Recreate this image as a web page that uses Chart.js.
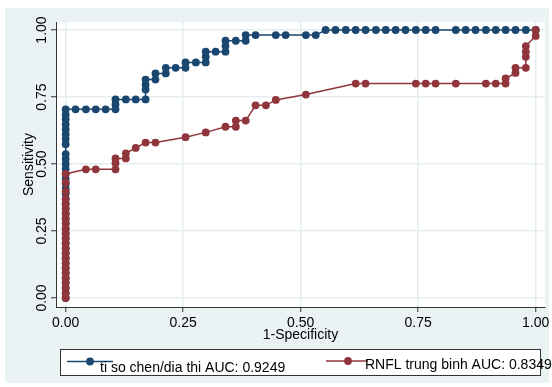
<!DOCTYPE html>
<html>
<head>
<meta charset="utf-8">
<script src="https://cdn.jsdelivr.net/npm/chart.js@4.4.1/dist/chart.umd.min.js"></script>
<style>
  html, body { margin: 0; padding: 0; background: #fff; }
  canvas { display: block; }
</style>
</head>
<body>
<canvas id="roc" width="552" height="387"></canvas>
<script>
// ROC curves: 1-Specificity (x) vs Sensitivity (y)

const tickValues = [0, 0.25, 0.5, 0.75, 1];
const tickLabels = ['0.00', '0.25', '0.50', '0.75', '1.00'];
const xTitle = '1-Specificity';
const yTitle = 'Sensitivity';

const seriesNames = ['ti so chen/dia thi AUC: 0.9249', 'RNFL trung binh AUC: 0.8349'];
const seriesColors = ['#1a476f', '#90353b'];

// ti so chen/dia thi
const ratioX = [
    0, 0, 0, 0, 0, 0, 0, 0, 0, 0, 0, 0, 0, 0, 0, 0, 0, 0, 0,
    0, 0, 0, 0, 0, 0, 0, 0, 0, 0, 0, 0, 0, 0, 0, 0, 0, 0, 0,
    0.021, 0.043, 0.064, 0.085, 0.106, 0.106, 0.106, 0.128, 0.149, 0.170,
    0.170, 0.170, 0.170, 0.191, 0.191, 0.213, 0.213, 0.234, 0.255, 0.255,
    0.277, 0.298, 0.298, 0.298, 0.319, 0.340, 0.340, 0.340, 0.362, 0.383,
    0.383, 0.404, 0.447, 0.468, 0.511, 0.532,
    0.553, 0.574, 0.596, 0.617, 0.638, 0.660, 0.681, 0.702, 0.723, 0.745, 0.766, 0.787,
    0.830, 0.851, 0.872, 0.894, 0.915, 0.936, 0.957, 0.979, 1
];
const ratioY = [
    0, 0.019, 0.037, 0.056, 0.074, 0.093, 0.111, 0.130, 0.148, 0.167,
    0.185, 0.204, 0.222, 0.241, 0.259, 0.278, 0.296, 0.315, 0.333, 0.352,
    0.370, 0.389, 0.407, 0.426, 0.444, 0.463, 0.481, 0.500, 0.519, 0.537,
    0.574, 0.593, 0.611, 0.630, 0.648, 0.667, 0.685, 0.704,
    0.704, 0.704, 0.704, 0.704, 0.704, 0.722, 0.741, 0.741, 0.741, 0.741,
    0.778, 0.796, 0.815, 0.815, 0.838, 0.838, 0.859, 0.859, 0.859, 0.879,
    0.879, 0.879, 0.900, 0.919, 0.919, 0.919, 0.940, 0.960, 0.960, 0.960,
    0.981, 0.981, 0.981, 0.981, 0.981, 0.981,
    1, 1, 1, 1, 1, 1, 1, 1, 1, 1, 1, 1,
    1, 1, 1, 1, 1, 1, 1, 1, 1
];

// RNFL trung binh
const rnflX = [
    0, 0, 0, 0, 0, 0, 0, 0, 0, 0, 0, 0,
    0, 0, 0, 0, 0, 0, 0, 0, 0, 0, 0, 0,
    0.043, 0.064, 0.106, 0.106, 0.106, 0.128, 0.128, 0.149, 0.170, 0.191,
    0.255, 0.298, 0.340, 0.362, 0.362, 0.383, 0.404, 0.426, 0.447, 0.511,
    0.617, 0.638, 0.745, 0.766, 0.787, 0.830, 0.894, 0.915, 0.936, 0.936,
    0.957, 0.957, 0.979, 0.979, 0.979, 0.979, 1, 1
];
const rnflY = [
    0, 0.019, 0.037, 0.056, 0.074, 0.093, 0.111, 0.130, 0.148, 0.167,
    0.185, 0.204, 0.222, 0.241, 0.259, 0.278, 0.296, 0.315, 0.333, 0.352,
    0.370, 0.398, 0.431, 0.463,
    0.480, 0.480, 0.480, 0.503, 0.521, 0.521, 0.540, 0.560, 0.580, 0.580,
    0.600, 0.618, 0.639, 0.639, 0.662, 0.662, 0.719, 0.719, 0.739, 0.759,
    0.800, 0.800, 0.800, 0.800, 0.800, 0.800, 0.800, 0.800, 0.800, 0.819,
    0.840, 0.859, 0.859, 0.900, 0.919, 0.940, 0.978, 1
];

const FONT = '14px "Liberation Sans", Arial, sans-serif';
const DOT = 3.9;

function toPoints(xs, ys) {
    return xs.map((x, i) => ({ x: x, y: ys[i] }));
}

// grey Stata-like page with white plot region
const backgroundPlugin = {
    id: 'stataBackground',
    beforeDraw(chart) {
        const ctx = chart.ctx;
        const a = chart.chartArea;
        ctx.save();
        ctx.fillStyle = '#ffffff';
        ctx.fillRect(0, 0, chart.width, chart.height);
        ctx.fillStyle = '#eaf2f3';
        ctx.fillRect(5, 8, 544, 375);
        ctx.fillStyle = '#ffffff';
        ctx.fillRect(a.left, a.top, a.right - a.left, a.bottom - a.top);
        ctx.restore();
    }
};

// tick labels, axis titles and the boxed legend
const labelsPlugin = {
    id: 'stataLabels',
    afterDraw(chart) {
        const ctx = chart.ctx;
        const xs = chart.scales.x;
        const ys = chart.scales.y;
        const a = chart.chartArea;
        ctx.save();
        ctx.font = FONT;
        ctx.fillStyle = '#000';
        ctx.textBaseline = 'alphabetic';
        ctx.textAlign = 'center';

        tickValues.forEach((v, i) => {
            ctx.fillText(tickLabels[i], xs.getPixelForValue(v), 327);
        });
        ctx.fillText(xTitle, (a.left + a.right) / 2, 339);

        tickValues.forEach((v, i) => {
            ctx.save();
            ctx.translate(45.5, ys.getPixelForValue(v));
            ctx.rotate(-Math.PI / 2);
            ctx.fillText(tickLabels[i], 0, 0);
            ctx.restore();
        });
        ctx.save();
        ctx.translate(33, (a.top + a.bottom) / 2);
        ctx.rotate(-Math.PI / 2);
        ctx.fillText(yTitle, 0, 0);
        ctx.restore();

        // legend box
        ctx.fillStyle = '#ffffff';
        ctx.fillRect(60.5, 349.5, 480, 26);
        ctx.strokeStyle = '#333';
        ctx.lineWidth = 1;
        ctx.strokeRect(60.5, 349.5, 480, 26);

        const items = [
            { x1: 67, x2: 113, mx: 90, ly: 361.5, tx: 100, ty: 372 },
            { x1: 326, x2: 368, mx: 348, ly: 361, tx: 365, ty: 368.5 }
        ];
        items.forEach((it, i) => {
            ctx.strokeStyle = seriesColors[i];
            ctx.lineWidth = 1.5;
            ctx.beginPath();
            ctx.moveTo(it.x1, it.ly);
            ctx.lineTo(it.x2, it.ly);
            ctx.stroke();
            ctx.fillStyle = seriesColors[i];
            ctx.beginPath();
            ctx.arc(it.mx, it.ly, DOT, 0, Math.PI * 2);
            ctx.fill();
            ctx.fillStyle = '#000';
            ctx.textAlign = 'left';
            ctx.fillText(seriesNames[i], it.tx, it.ty);
        });
        ctx.restore();
    }
};

function axisOptions(min, max) {
    return {
        type: 'linear',
        min: min,
        max: max,
        afterBuildTicks: function(scale) {
            scale.ticks = tickValues.map(v => ({ value: v }));
        },
        afterFit: function(scale) {
            if (scale.isHorizontal()) {
                scale.height = 0;
            } else {
                scale.width = 0;
            }
        },
        ticks: { display: false },
        grid: {
            color: '#e4eded',
            lineWidth: 1.5,
            drawTicks: true,
            tickLength: 5,
            tickColor: '#333',
            tickWidth: 1
        },
        border: { display: true, color: '#333', width: 1 }
    };
}

new Chart(document.getElementById('roc'), {
    type: 'scatter',
    data: {
        datasets: [
            {
                label: seriesNames[1],
                data: toPoints(rnflX, rnflY),
                showLine: true,
                borderColor: seriesColors[1],
                backgroundColor: seriesColors[1],
                borderWidth: 1.5,
                pointRadius: DOT,
                pointBorderWidth: 0,
                pointHoverRadius: DOT,
                tension: 0,
                order: 0
            },
            {
                label: seriesNames[0],
                data: toPoints(ratioX, ratioY),
                showLine: true,
                borderColor: seriesColors[0],
                backgroundColor: seriesColors[0],
                borderWidth: 1.5,
                pointRadius: DOT,
                pointBorderWidth: 0,
                pointHoverRadius: DOT,
                tension: 0,
                order: 1
            }
        ]
    },
    options: {
        responsive: false,
        animation: false,
        devicePixelRatio: 1,
        layout: {
            padding: { left: 56, top: 22, right: 7, bottom: 80 }
        },
        plugins: {
            legend: { display: false },
            tooltip: { enabled: false }
        },
        scales: {
            x: axisOptions(-0.0206, 1.0198),
            y: axisOptions(-0.0336, 1.0299)
        }
    },
    plugins: [backgroundPlugin, labelsPlugin]
});
</script>
</body>
</html>
